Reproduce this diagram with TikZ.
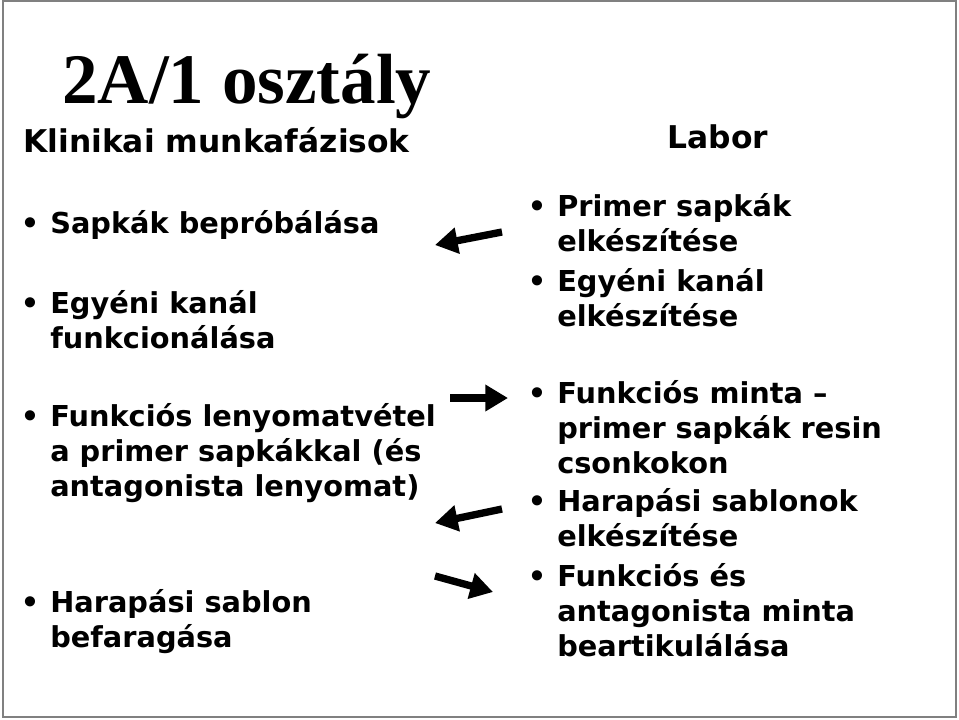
\documentclass[tikz,border=0pt]{standalone}
\usepackage{fontspec}
\setmainfont{DejaVu Sans}
\newfontfamily\titlefont{Liberation Serif}
\usepackage{tikz}
\usetikzlibrary{arrows.meta}

% items are placed at the baseline of their last line
\tikzset{
  item/.style={anchor=base west, align=left, inner sep=0pt,
    font=\fontsize{21.6}{26.25}\selectfont\bfseries},
  head/.style={inner sep=0pt, font=\fontsize{23.5}{28}\selectfont\bfseries},
  dot/.style={anchor=base, inner sep=0pt, font=\fontsize{21.6}{26.25}\selectfont\bfseries},
  bigarrow/.style={line width=5.5pt, -{Triangle[length=17pt, width=19pt]}}
}

\begin{document}
\begin{tikzpicture}[x=0.75pt, y=-0.75pt]
    \useasboundingbox (0, 0) rectangle (959, 719);
    \draw[gray, line width=1.2pt] (3, 1) rectangle (956, 717);

    \node[anchor=base west, inner sep=0pt, font=\titlefont\fontsize{53.3}{60}\selectfont\bfseries] (title) at (62, 103) {2A/1 osztály};
    \node[head, anchor=base west] (klinika) at (23, 152) {Klinikai munkafázisok};
    \node[head, anchor=base] (labor) at (718, 148) {Labor};

    % left column
    \node[dot] (d1) at (30, 233) {•};
    \node[item] (k1) at (50, 233) {Sapkák beprόbálása};
    \node[dot] (d2) at (30, 313) {•};
    \node[item] (k2) at (50, 348) {Egyéni kanál\\funkcionálása};
    \node[dot] (d3) at (30, 426) {•};
    \node[item] (k3) at (50, 496) {Funkciós lenyomatvétel\\a primer sapkákkal (és\\antagonista lenyomat)};
    \node[dot] (d4) at (30, 612) {•};
    \node[item] (k4) at (50, 647) {Harapási sablon\\befaragása};

    % right column
    \node[dot] (e1) at (537, 216) {•};
    \node[item] (l1) at (557, 251) {Primer sapkák\\elkészítése};
    \node[dot] (e2) at (537, 291) {•};
    \node[item] (l2) at (557, 326) {Egyéni kanál\\elkészítése};
    \node[dot] (e3) at (537, 403) {•};
    \node[item] (l3) at (557, 473) {Funkciós minta –\\primer sapkák resin\\csonkokon};
    \node[dot] (e4) at (537, 511) {•};
    \node[item] (l4) at (557, 546) {Harapási sablonok\\elkészítése};
    \node[dot] (e5) at (537, 586) {•};
    \node[item] (l5) at (557, 656) {Funkciós és\\antagonista minta\\beartikulálása};

    % arrows
    \coordinate (a1s) at (502, 232);
    \coordinate (a1e) at (435, 245);
    \coordinate (a2s) at (450, 398);
    \coordinate (a2e) at (508, 398);
    \coordinate (a3s) at (502, 509);
    \coordinate (a3e) at (435, 523);
    \coordinate (a4s) at (435, 576);
    \coordinate (a4e) at (493, 592);
    \draw[bigarrow] (a1s) -- (a1e);
    \draw[bigarrow] (a2s) -- (a2e);
    \draw[bigarrow] (a3s) -- (a3e);
    \draw[bigarrow] (a4s) -- (a4e);
\end{tikzpicture}
\end{document}
